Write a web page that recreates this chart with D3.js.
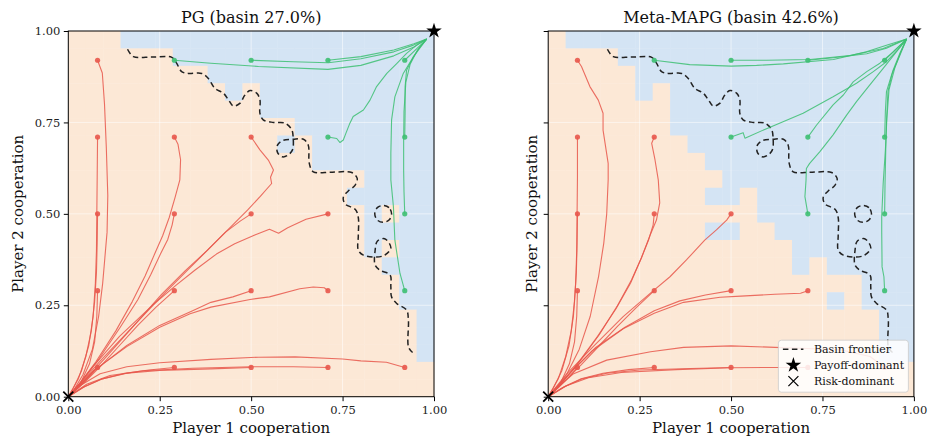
<!DOCTYPE html>
<html><head><meta charset="utf-8">
<script src="https://cdn.jsdelivr.net/npm/d3@7"></script>
<style>
body{margin:0;background:#fff;}
svg{display:block;font-family:"DejaVu Serif",serif;}
</style></head><body>
<svg id="chart" width="929" height="437"></svg>
<script>
// ---------------- DATA ----------------
const tickValues = [0, 0.25, 0.5, 0.75, 1];
const panelTitles = ["PG (basin 27.0%)", "Meta-MAPG (basin 42.6%)"];
const xLabel = "Player 1 cooperation";
const yLabel = "Player 2 cooperation";
const legendLabels = ["Basin frontier", "Payoff-dominant", "Risk-dominant"];
const payoffPoint = [1, 1];
const riskPoint = [0, 0];

// basin maps, top row first (1 = payoff-dominant basin, 0 = risk-dominant basin)
const pgBasin = [
"000111111111111111111",
"000000111111111111111",
"000000001111111111111",
"000000000101111111111",
"000000000001111111111",
"000000000000011111111",
"000000000000101111111",
"000000000000001111111",
"000000000000000001111",
"000000000000000011111",
"000000000000000001011",
"000000000000000001111",
"000000000000000001011",
"000000000000000000111",
"000000000000000000011",
"000000000000000000011",
"000000000000000000001",
"000000000000000000001",
"000000000000000000001",
"000000000000000000000",
"000000000000000000000"
];
const mapgBasin = [
"011111111111111111111",
"000011111111111111111",
"000001111111111111111",
"000001011111111111111",
"000000011111111111111",
"000000011111111111111",
"000000001111111111111",
"000000000111111111111",
"000000000011111111111",
"000000000110111111111",
"000000000000111111111",
"000000000110011111111",
"000000000000001111111",
"000000000000001011111",
"000000000000000000111",
"000000000000000010111",
"000000000000000000011",
"000000000000000000011",
"000000000000000000011",
"000000000000000000000",
"000000000000000000000"
];

// basin frontier (same in both panels)
const frontierPath = [
[0.162,0.950],[0.178,0.930],[0.230,0.929],[0.283,0.928],[0.296,0.912],[0.310,0.889],[0.328,0.884],[0.365,0.884],[0.383,0.870],[0.401,0.843],[0.424,0.830],[0.438,0.812],[0.451,0.795],[0.469,0.802],[0.483,0.825],[0.497,0.837],[0.515,0.830],[0.524,0.812],[0.524,0.775],[0.533,0.757],[0.561,0.750],[0.593,0.748],[0.611,0.730],[0.615,0.707],[0.613,0.675],[0.600,0.660],[0.585,0.656],[0.572,0.668],[0.572,0.688],[0.585,0.700],[0.615,0.704],[0.643,0.704],[0.656,0.688],[0.659,0.638],[0.670,0.615],[0.720,0.614],[0.775,0.613],[0.790,0.597],[0.784,0.578],[0.765,0.562],[0.752,0.545],[0.757,0.527],[0.785,0.512],[0.793,0.49],[0.793,0.44],[0.793,0.401],[0.807,0.387],[0.861,0.385],[0.882,0.407],[0.865,0.432],[0.845,0.425],[0.839,0.40],[0.839,0.36],[0.852,0.346],[0.880,0.333],[0.882,0.301],[0.884,0.273],[0.898,0.255],[0.925,0.237],[0.930,0.210],[0.930,0.137],[0.939,0.123],[0.948,0.119]
];
const frontierIsland = [[0.884,0.500],[0.877,0.517],[0.861,0.523],[0.845,0.517],[0.838,0.500],[0.845,0.483],[0.861,0.477],[0.877,0.483]];

// trajectories (first point = start)
const pgRed = [
[[0.08,0.92],[0.093,0.885],[0.099,0.80],[0.104,0.68],[0.108,0.55],[0.106,0.45],[0.100,0.38],[0.094,0.31],[0.083,0.22],[0.066,0.13],[0.040,0.06],[0.015,0.018],[0,0]],
[[0.08,0.71],[0.079,0.60],[0.078,0.50],[0.077,0.40],[0.074,0.31],[0.068,0.22],[0.056,0.14],[0.036,0.07],[0.012,0.02],[0,0]],
[[0.08,0.50],[0.079,0.42],[0.077,0.34],[0.072,0.26],[0.063,0.18],[0.048,0.11],[0.028,0.05],[0,0]],
[[0.08,0.29],[0.078,0.22],[0.072,0.15],[0.058,0.09],[0.035,0.04],[0,0]],
[[0.08,0.08],[0.055,0.052],[0.028,0.025],[0,0]],
[[0.29,0.71],[0.30,0.69],[0.307,0.648],[0.305,0.593],[0.292,0.545],[0.276,0.49],[0.258,0.44],[0.236,0.39],[0.21,0.33],[0.175,0.26],[0.13,0.18],[0.075,0.095],[0.03,0.035],[0,0]],
[[0.29,0.50],[0.284,0.47],[0.272,0.43],[0.252,0.39],[0.226,0.335],[0.19,0.265],[0.142,0.19],[0.085,0.105],[0.035,0.04],[0,0]],
[[0.29,0.29],[0.24,0.245],[0.19,0.195],[0.14,0.14],[0.09,0.085],[0.045,0.04],[0,0]],
[[0.29,0.08],[0.22,0.073],[0.15,0.063],[0.09,0.048],[0.045,0.028],[0,0]],
[[0.50,0.71],[0.524,0.675],[0.547,0.647],[0.561,0.62],[0.553,0.60],[0.556,0.583],[0.525,0.548],[0.49,0.51],[0.445,0.465],[0.395,0.415],[0.335,0.355],[0.26,0.28],[0.17,0.185],[0.085,0.095],[0.03,0.032],[0,0]],
[[0.50,0.50],[0.47,0.48],[0.43,0.45],[0.38,0.40],[0.32,0.345],[0.255,0.28],[0.18,0.195],[0.10,0.105],[0.04,0.04],[0,0]],
[[0.50,0.29],[0.45,0.273],[0.39,0.258],[0.34,0.235],[0.25,0.195],[0.16,0.14],[0.07,0.07],[0.025,0.025],[0,0]],
[[0.50,0.08],[0.39,0.076],[0.25,0.072],[0.16,0.064],[0.09,0.048],[0.04,0.025],[0,0]],
[[0.71,0.50],[0.65,0.485],[0.60,0.462],[0.575,0.447],[0.55,0.458],[0.51,0.442],[0.455,0.418],[0.405,0.39],[0.345,0.345],[0.295,0.305],[0.23,0.25],[0.14,0.165],[0.07,0.085],[0.025,0.028],[0,0]],
[[0.71,0.29],[0.70,0.298],[0.67,0.30],[0.633,0.295],[0.55,0.273],[0.497,0.266],[0.39,0.245],[0.333,0.227],[0.25,0.19],[0.16,0.137],[0.07,0.072],[0.025,0.025],[0,0]],
[[0.71,0.08],[0.615,0.082],[0.50,0.082],[0.34,0.078],[0.205,0.071],[0.114,0.058],[0.05,0.034],[0,0]],
[[0.92,0.08],[0.87,0.094],[0.80,0.098],[0.75,0.103],[0.62,0.109],[0.52,0.108],[0.39,0.102],[0.25,0.093],[0.16,0.082],[0.087,0.063],[0.035,0.032],[0,0]]
];
const pgGreen = [
[[0.29,0.92],[0.39,0.912],[0.52,0.903],[0.71,0.895],[0.80,0.906],[0.89,0.932],[0.945,0.956],[0.98,0.978]],
[[0.50,0.92],[0.615,0.916],[0.711,0.913],[0.80,0.924],[0.89,0.943],[0.94,0.96],[0.98,0.978]],
[[0.71,0.92],[0.80,0.93],[0.89,0.948],[0.945,0.965],[0.98,0.978]],
[[0.92,0.92],[0.953,0.952],[0.98,0.978]],
[[0.71,0.71],[0.734,0.706],[0.743,0.695],[0.752,0.702],[0.759,0.72],[0.77,0.748],[0.779,0.766],[0.807,0.784],[0.825,0.811],[0.843,0.848],[0.871,0.884],[0.898,0.911],[0.925,0.939],[0.953,0.962],[0.98,0.978]],
[[0.92,0.71],[0.921,0.78],[0.921,0.848],[0.925,0.893],[0.944,0.93],[0.962,0.957],[0.98,0.978]],
[[0.92,0.50],[0.918,0.56],[0.917,0.62],[0.917,0.70],[0.918,0.78],[0.923,0.86],[0.935,0.91],[0.955,0.948],[0.98,0.978]],
[[0.92,0.29],[0.907,0.337],[0.893,0.428],[0.889,0.52],[0.882,0.593],[0.882,0.665],[0.884,0.757],[0.893,0.82],[0.916,0.884],[0.944,0.93],[0.98,0.978]]
];
const mapgRed = [
[[0.08,0.92],[0.091,0.903],[0.114,0.848],[0.137,0.811],[0.15,0.775],[0.15,0.729],[0.164,0.638],[0.164,0.593],[0.16,0.50],[0.152,0.42],[0.138,0.33],[0.115,0.22],[0.085,0.13],[0.05,0.06],[0.018,0.018],[0,0]],
[[0.08,0.71],[0.08,0.60],[0.079,0.50],[0.078,0.40],[0.075,0.31],[0.069,0.22],[0.057,0.14],[0.037,0.07],[0.012,0.02],[0,0]],
[[0.08,0.50],[0.079,0.42],[0.077,0.34],[0.072,0.26],[0.063,0.18],[0.048,0.11],[0.028,0.05],[0,0]],
[[0.08,0.29],[0.078,0.22],[0.072,0.15],[0.058,0.09],[0.035,0.04],[0,0]],
[[0.08,0.08],[0.055,0.052],[0.028,0.025],[0,0]],
[[0.29,0.71],[0.283,0.693],[0.292,0.648],[0.301,0.593],[0.305,0.53],[0.296,0.483],[0.278,0.44],[0.255,0.38],[0.225,0.31],[0.185,0.24],[0.135,0.165],[0.08,0.09],[0.03,0.03],[0,0]],
[[0.29,0.50],[0.287,0.47],[0.275,0.43],[0.255,0.38],[0.228,0.32],[0.19,0.25],[0.14,0.17],[0.085,0.095],[0.035,0.035],[0,0]],
[[0.29,0.29],[0.24,0.243],[0.19,0.193],[0.14,0.14],[0.09,0.087],[0.045,0.042],[0,0]],
[[0.29,0.08],[0.22,0.074],[0.15,0.064],[0.09,0.049],[0.045,0.028],[0,0]],
[[0.50,0.50],[0.488,0.483],[0.46,0.456],[0.428,0.428],[0.378,0.374],[0.333,0.328],[0.278,0.282],[0.205,0.219],[0.123,0.137],[0.05,0.062],[0,0]],
[[0.50,0.29],[0.43,0.278],[0.36,0.262],[0.29,0.235],[0.21,0.19],[0.13,0.135],[0.06,0.065],[0.02,0.02],[0,0]],
[[0.71,0.29],[0.69,0.283],[0.62,0.28],[0.527,0.275],[0.47,0.272],[0.37,0.258],[0.29,0.228],[0.205,0.186],[0.12,0.125],[0.05,0.055],[0,0]],
[[0.50,0.08],[0.39,0.077],[0.25,0.073],[0.16,0.064],[0.09,0.048],[0.04,0.025],[0,0]],
[[0.71,0.08],[0.60,0.08],[0.50,0.079],[0.35,0.074],[0.20,0.066],[0.11,0.052],[0.05,0.03],[0,0]],
[[0.92,0.08],[0.88,0.11],[0.80,0.128],[0.71,0.132],[0.62,0.135],[0.50,0.139],[0.37,0.135],[0.28,0.123],[0.16,0.10],[0.068,0.062],[0.025,0.025],[0,0]]
];
const mapgGreen = [
[[0.29,0.92],[0.387,0.908],[0.50,0.904],[0.57,0.906],[0.643,0.91],[0.78,0.922],[0.87,0.943],[0.925,0.961],[0.98,0.978]],
[[0.50,0.92],[0.597,0.92],[0.716,0.922],[0.825,0.933],[0.916,0.952],[0.98,0.978]],
[[0.71,0.92],[0.78,0.927],[0.871,0.938],[0.925,0.953],[0.98,0.978]],
[[0.92,0.92],[0.95,0.95],[0.98,0.978]],
[[0.50,0.71],[0.533,0.722],[0.538,0.707],[0.597,0.733],[0.697,0.775],[0.779,0.82],[0.843,0.857],[0.889,0.889],[0.925,0.916],[0.955,0.948],[0.98,0.978]],
[[0.71,0.71],[0.734,0.743],[0.779,0.798],[0.807,0.825],[0.834,0.861],[0.871,0.889],[0.907,0.912],[0.944,0.943],[0.98,0.978]],
[[0.71,0.50],[0.702,0.547],[0.705,0.592],[0.706,0.624],[0.715,0.638],[0.743,0.67],[0.779,0.716],[0.816,0.77],[0.843,0.807],[0.879,0.852],[0.916,0.898],[0.952,0.943],[0.98,0.978]],
[[0.92,0.71],[0.922,0.78],[0.925,0.834],[0.939,0.88],[0.962,0.934],[0.98,0.978]],
[[0.92,0.50],[0.921,0.58],[0.923,0.674],[0.925,0.75],[0.929,0.834],[0.942,0.89],[0.962,0.94],[0.98,0.978]],
[[0.92,0.29],[0.918,0.328],[0.913,0.355],[0.912,0.45],[0.912,0.492],[0.916,0.583],[0.922,0.674],[0.926,0.76],[0.932,0.84],[0.948,0.9],[0.965,0.945],[0.98,0.978]]
];

// ---------------- DRAW ----------------
const COL = {risk:"#fce8d6", payoff:"#d4e4f4", red:"#e8574b", green:"#3dbf72", frontier:"#222"};
const S = 365.7, TOP = 31;
const panels = [
  {left:68.3, basin:pgBasin, red:pgRed, green:pgGreen, title:panelTitles[0], yTickLabels:true, ylabX:23, legend:false},
  {left:548.2, basin:mapgBasin, red:mapgRed, green:mapgGreen, title:panelTitles[1], yTickLabels:false, ylabX:537, legend:true}
];
const svg = d3.select("#chart");

panels.forEach((p, pi) => {
  const x = d3.scaleLinear().domain([0,1]).range([p.left, p.left+S]);
  const y = d3.scaleLinear().domain([0,1]).range([TOP+S, TOP]);
  const g = svg.append("g");
  const n = p.basin.length;
  const cells = [];
  p.basin.forEach((row, r) => {
    for (let c = 0; c < row.length; c++) cells.push({r, c, v: row[c]});
  });
  g.append("g").selectAll("rect").data(cells).join("rect")
    .attr("x", d => x(d.c/n))
    .attr("y", d => y(1 - d.r/n))
    .attr("width", d => x((d.c+1)/n) - x(d.c/n) + 0.4)
    .attr("height", d => y(1-(d.r+1)/n) - y(1 - d.r/n) + 0.4)
    .attr("fill", d => d.v === "1" ? COL.payoff : COL.risk);

  // grid
  const gl = g.append("g").attr("stroke","#fff").attr("stroke-opacity",0.6).attr("stroke-width",0.9);
  [0.25,0.5,0.75].forEach(t => {
    gl.append("line").attr("x1",x(t)).attr("x2",x(t)).attr("y1",y(0)).attr("y2",y(1));
    gl.append("line").attr("x1",x(0)).attr("x2",x(1)).attr("y1",y(t)).attr("y2",y(t));
  });

  // frontier
  const fl = d3.line().x(d=>x(d[0])).y(d=>y(d[1])).curve(d3.curveCatmullRom.alpha(0.5));
  const flc = d3.line().x(d=>x(d[0])).y(d=>y(d[1])).curve(d3.curveCatmullRomClosed.alpha(0.5));
  g.append("path").attr("d", fl(frontierPath)).attr("fill","none").attr("stroke",COL.frontier)
    .attr("stroke-width",1.5).attr("stroke-dasharray","5.5,3.5");
  g.append("path").attr("d", flc(frontierIsland)).attr("fill","none").attr("stroke",COL.frontier)
    .attr("stroke-width",1.5).attr("stroke-dasharray","5.5,3.5");

  // trajectories
  const tl = d3.line().x(d=>x(d[0])).y(d=>y(d[1]));
  const drawSet = (set, color) => {
    g.append("g").selectAll("path").data(set).join("path")
      .attr("d", tl).attr("fill","none").attr("stroke",color)
      .attr("stroke-width",1.1).attr("stroke-opacity",0.85).attr("stroke-linejoin","round");
  };
  drawSet(p.red, COL.red);
  drawSet(p.green, COL.green);
  const dots = (set, color) => {
    g.append("g").selectAll("circle").data(set).join("circle")
      .attr("cx", d=>x(d[0][0])).attr("cy", d=>y(d[0][1])).attr("r",2.6)
      .attr("fill",color).attr("fill-opacity",0.9);
  };
  dots(p.red, COL.red);
  dots(p.green, COL.green);

  // frame
  g.append("rect").attr("x",x(0)).attr("y",y(1)).attr("width",S).attr("height",S)
    .attr("fill","none").attr("stroke","#000").attr("stroke-width",1);

  // axes
  const ax = g.append("g").attr("transform",`translate(0,${y(0)})`)
    .call(d3.axisBottom(x).tickValues(tickValues).tickFormat(d3.format(".2f")).tickSize(4.5).tickPadding(5));
  const ay = g.append("g").attr("transform",`translate(${x(0)},0)`)
    .call(d3.axisLeft(y).tickValues(tickValues).tickFormat(p.yTickLabels ? d3.format(".2f") : () => "").tickSize(4.5).tickPadding(3.5));
  [ax, ay].forEach(a => {
    a.select(".domain").remove();
    a.selectAll("text").attr("font-family","DejaVu Serif, serif").attr("font-size","11.5px").attr("fill","#222");
    a.selectAll("line").attr("stroke","#000");
  });

  // markers
  g.append("path").attr("d", d3.symbol(d3.symbolStar, 75)())
    .attr("transform",`translate(${x(payoffPoint[0])},${y(payoffPoint[1])})`).attr("fill","#000");
  g.append("path").attr("d","M-5,-5L5,5M-5,5L5,-5")
    .attr("transform",`translate(${x(riskPoint[0])},${y(riskPoint[1])})`).attr("stroke","#000").attr("stroke-width",1.8);

  // labels
  g.append("text").attr("x",x(0.5)).attr("y",23).attr("text-anchor","middle")
    .attr("font-size","16px").attr("fill","#111").text(p.title);
  g.append("text").attr("x",x(0.5)).attr("y",432.5).attr("text-anchor","middle")
    .attr("font-size","15px").attr("fill","#111").text(xLabel);
  g.append("text").attr("transform",`translate(${p.ylabX},${y(0.5)}) rotate(-90)`).attr("text-anchor","middle")
    .attr("font-size","15px").attr("fill","#111").text(yLabel);

  if (p.legend) {
    const L = g.append("g").attr("transform",`translate(${x(1)-135.5},${y(0)-56.5})`);
    L.append("rect").attr("width",130).attr("height",52).attr("rx",3)
      .attr("fill","#fff").attr("fill-opacity",0.85).attr("stroke","#ccc").attr("stroke-width",0.8);
    const rows = [9, 25, 41];
    L.append("line").attr("x1",4.5).attr("x2",25).attr("y1",rows[0]).attr("y2",rows[0])
      .attr("stroke",COL.frontier).attr("stroke-width",1.5).attr("stroke-dasharray","5.5,3.5");
    L.append("path").attr("d", d3.symbol(d3.symbolStar, 75)()).attr("transform",`translate(15,${rows[1]})`).attr("fill","#000");
    L.append("path").attr("d","M-5,-5L5,5M-5,5L5,-5").attr("transform",`translate(15,${rows[2]})`)
      .attr("stroke","#000").attr("stroke-width",1.2);
    legendLabels.forEach((t,i) => {
      L.append("text").attr("x",35.5).attr("y",rows[i]).attr("dy","0.35em")
        .attr("font-size","11px").attr("fill","#111").text(t);
    });
  }
});
</script></body></html>
